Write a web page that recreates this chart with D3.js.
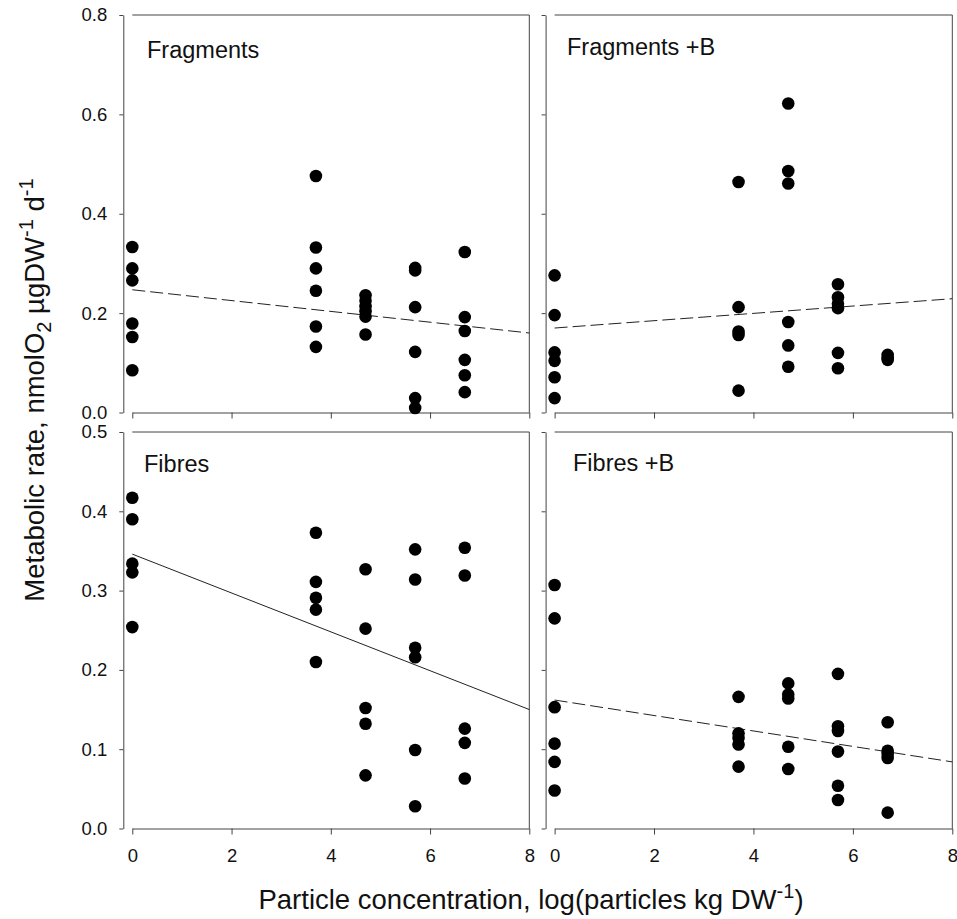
<!DOCTYPE html>
<html>
<head>
<meta charset="utf-8">
<script src="https://cdn.jsdelivr.net/npm/d3@7"></script>
<style>
  body { margin: 0; background: #fff; }
  svg { display: block; font-family: "Liberation Sans", Arial, sans-serif; }
</style>
</head>
<body>
<script>
// log particle concentrations (x groups)
var concentrations = [0, 3.7, 4.7, 5.7, 6.7];

// metabolic rate values per concentration group
var fragments = [
  [0.333, 0.290, 0.266, 0.179, 0.152, 0.085],
  [0.476, 0.332, 0.290, 0.245, 0.173, 0.132],
  [0.236, 0.225, 0.214, 0.204, 0.193, 0.157],
  [0.291, 0.286, 0.212, 0.122, 0.029, 0.009],
  [0.323, 0.192, 0.164, 0.106, 0.075, 0.041]
];
var fragmentsB = [
  [0.276, 0.196, 0.121, 0.104, 0.071, 0.029],
  [0.464, 0.212, 0.163, 0.156, 0.044],
  [0.622, 0.486, 0.461, 0.182, 0.135, 0.092],
  [0.258, 0.232, 0.219, 0.210, 0.120, 0.089],
  [0.116, 0.110, 0.106]
];
var fibres = [
  [0.417, 0.390, 0.334, 0.323, 0.254],
  [0.373, 0.311, 0.291, 0.276, 0.210],
  [0.327, 0.252, 0.152, 0.132, 0.067],
  [0.352, 0.314, 0.228, 0.216, 0.099, 0.028],
  [0.354, 0.319, 0.126, 0.108, 0.063]
];
var fibresB = [
  [0.307, 0.265, 0.153, 0.107, 0.084, 0.048],
  [0.166, 0.120, 0.114, 0.106, 0.078],
  [0.183, 0.169, 0.164, 0.103, 0.075],
  [0.195, 0.129, 0.123, 0.097, 0.054, 0.036],
  [0.134, 0.098, 0.094, 0.089, 0.020]
];

// regression lines: value at x=0 and x=8
var fitFragments = [0.247, 0.160];
var fitFragmentsB = [0.170, 0.229];
var fitFibres = [0.346, 0.150];
var fitFibresB = [0.162, 0.084];

var xTicks = [0, 2, 4, 6, 8];
var yTicksTop = [0.0, 0.2, 0.4, 0.6, 0.8];
var yTicksBottom = [0.0, 0.1, 0.2, 0.3, 0.4, 0.5];
var titles = ["Fragments", "Fragments +B", "Fibres", "Fibres +B"];

var width = 957, height = 919;

var svg = d3.select("body")
  .append("svg")
  .attr("width", width)
  .attr("height", height);

// panel geometry
var cols = [[132.3, 529.3], [554.6, 952.3]];
var rows = [[412.5, 15], [828.5, 432]];

var panels = [
  {data: fragments, fit: fitFragments, col: 0, row: 0, ymax: 0.8, ticks: yTicksTop, dash: "13,5", title: titles[0], tx: 147, ty: 58},
  {data: fragmentsB, fit: fitFragmentsB, col: 1, row: 0, ymax: 0.8, ticks: yTicksTop, dash: "13,5", title: titles[1], tx: 567, ty: 55},
  {data: fibres, fit: fitFibres, col: 0, row: 1, ymax: 0.5, ticks: yTicksBottom, dash: null, title: titles[2], tx: 144, ty: 472},
  {data: fibresB, fit: fitFibresB, col: 1, row: 1, ymax: 0.5, ticks: yTicksBottom, dash: "13,5", title: titles[3], tx: 573, ty: 471}
];

panels.forEach(function(p){
  var x = d3.scaleLinear().domain([0, 8]).range(cols[p.col]);
  var y = d3.scaleLinear().domain([0, p.ymax]).range(rows[p.row]);
  var g = svg.append("g");

  // frame top and right
  g.append("path")
    .attr("d", "M" + x(0) + "," + y(p.ymax) + "H" + x(8) + "V" + y(0))
    .attr("fill", "none")
    .attr("stroke", "#444")
    .attr("stroke-width", 1);

  // y axis, offset to the left
  var yAxis = d3.axisLeft(y)
    .tickValues(p.ticks)
    .tickSize(4)
    .tickSizeOuter(0)
    .tickPadding(12)
    .tickFormat(p.col == 0 ? d3.format(".1f") : "");
  g.append("g")
    .attr("transform", "translate(" + (x(0) - 9) + ",0)")
    .call(yAxis);

  // x axis
  var xAxis = d3.axisBottom(x)
    .tickValues(xTicks)
    .tickSize(6)
    .tickSizeOuter(0)
    .tickPadding(14)
    .tickFormat(p.row == 1 ? d3.format("d") : "");
  g.append("g")
    .attr("transform", "translate(0," + y(0) + ")")
    .call(xAxis);

  g.selectAll(".domain, .tick line").attr("stroke", "#444");
  g.selectAll(".tick text")
    .attr("font-size", 18.5)
    .attr("font-family", "Liberation Sans, Arial, sans-serif")
    .attr("fill", "#111");

  // regression line
  g.append("line")
    .attr("x1", x(0)).attr("y1", y(p.fit[0]))
    .attr("x2", x(8)).attr("y2", y(p.fit[1]))
    .attr("stroke", "#222")
    .attr("stroke-width", 1)
    .attr("stroke-dasharray", p.dash);

  // points
  p.data.forEach(function(vals, i){
    g.selectAll(null)
      .data(vals)
      .enter()
      .append("circle")
      .attr("cx", x(concentrations[i]))
      .attr("cy", function(d){ return y(d); })
      .attr("r", 6.3)
      .attr("fill", "black");
  });

  // panel title
  g.append("text")
    .attr("x", p.tx)
    .attr("y", p.ty)
    .attr("font-size", 23.5)
    .attr("fill", "#111")
    .text(p.title);
});

// x axis label
var xl = svg.append("text")
  .attr("x", 531)
  .attr("y", 909)
  .attr("text-anchor", "middle")
  .attr("font-size", 27.5)
  .attr("fill", "#111");
xl.append("tspan").text("Particle concentration, log(particles kg DW");
xl.append("tspan").attr("dy", -11).attr("font-size", 20).text("-1");
xl.append("tspan").attr("dy", 11).text(")");

// y axis label
var yl = svg.append("text")
  .attr("transform", "translate(44,390) rotate(-90)")
  .attr("text-anchor", "middle")
  .attr("font-size", 27.5)
  .attr("fill", "#111");
yl.append("tspan").text("Metabolic rate, nmolO");
yl.append("tspan").attr("dy", 7).attr("font-size", 20).text("2");
yl.append("tspan").attr("dy", -7).text(" \u00b5gDW");
yl.append("tspan").attr("dy", -11).attr("font-size", 20).text("-1");
yl.append("tspan").attr("dy", 11).text(" d");
yl.append("tspan").attr("dy", -11).attr("font-size", 20).text("-1");
</script>
</body>
</html>
